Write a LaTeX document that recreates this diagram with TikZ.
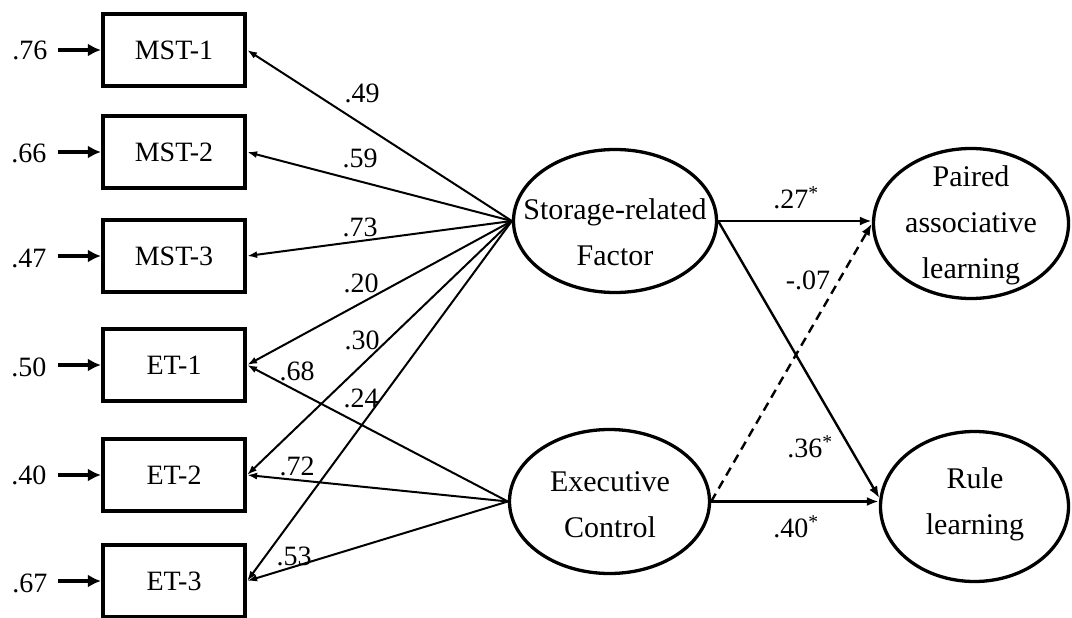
\documentclass[tikz,border=0pt]{standalone}
\usepackage{fontspec}
\setmainfont{Liberation Serif}
\usetikzlibrary{arrows.meta,shapes.geometric}
\begin{document}
\begin{tikzpicture}[x=1pt,y=-1pt,
  obs/.style={draw, line width=4.2pt, minimum width=142pt, minimum height=72pt, inner sep=0pt, font=\fontsize{28}{28}\selectfont},
  lat/.style={draw, ellipse, line width=3.3pt, inner sep=0pt},
  ltext/.style={align=center, inner sep=0pt, font=\fontsize{30}{46}\selectfont},
  err/.style={-{Latex[length=13pt,width=13pt]}, line width=4.2pt},
  load/.style={-{Latex[length=10pt,width=7pt]}, line width=2pt},
  reg/.style={-{Latex[length=12pt,width=9pt]}, line width=2.4pt},
  lbl/.style={font=\fontsize{28}{28}\selectfont, inner sep=0pt}
]
\useasboundingbox (0,0) rectangle (1072,618);
\clip (0,0) rectangle (1072,618);
\fill[white] (0,0) rectangle (1072,618);

% observed boxes
\node[obs] (m1) at (174,50) {MST-1};
\node[obs] (m2) at (174,152) {MST-2};
\node[obs] (m3) at (174,256) {MST-3};
\node[obs] (e1) at (174,365) {ET-1};
\node[obs] (e2) at (174,475) {ET-2};
\node[obs] (e3) at (174,581) {ET-3};

% latent ellipses
\node[lat, minimum width=203pt, minimum height=143pt] (sto) at (615,221) {};
\node[lat, minimum width=200pt, minimum height=144pt] (exe) at (609.5,501.5) {};
\node[lat, minimum width=195pt, minimum height=150pt] (pal) at (971,223.5) {};
\node[lat, minimum width=188pt, minimum height=150pt] (rul) at (974.5,506.5) {};
\node[ltext] (stot) at (615,232) {Storage-related\\Factor};
\node[ltext] (exet) at (610,505) {Executive\\Control};
\node[ltext] (palt) at (971,225) {Paired\\associative\\learning};
\node[ltext] (rult) at (975,504) {Rule\\learning};

% error terms
\node[lbl] (u1) at (30,50) {.76};
\node[lbl] (u2) at (29,153) {.66};
\node[lbl] (u3) at (29,258) {.47};
\node[lbl] (u4) at (29,367) {.50};
\node[lbl] (u5) at (29,475) {.40};
\node[lbl] (u6) at (30,583) {.67};
\coordinate (s1) at (58,50);
\coordinate (s2) at (58,152);
\coordinate (s3) at (58,256);
\coordinate (s4) at (58,365);
\coordinate (s5) at (58,475);
\coordinate (s6) at (58,581);
\draw[err] (s1) -- (m1.west);
\draw[err] (s2) -- (m2.west);
\draw[err] (s3) -- (m3.west);
\draw[err] (s4) -- (e1.west);
\draw[err] (s5) -- (e2.west);
\draw[err] (s6) -- (e3.west);

% loadings
\draw[load] (sto.west) -- (m1.east);
\draw[load] (sto.west) -- (m2.east);
\draw[load] (sto.west) -- (m3.east);
\draw[load] (sto.west) -- (e1.east);
\draw[load] (sto.west) -- (e2.east);
\draw[load] (sto.west) -- (e3.east);
\draw[load] (exe.west) -- (e1.east);
\draw[load] (exe.west) -- (e2.east);
\draw[load] (exe.west) -- (e3.east);

\node[lbl] (l49) at (362,93) {.49};
\node[lbl] (l59) at (360,158) {.59};
\node[lbl] (l73) at (360,227) {.73};
\node[lbl] (l20) at (361,283) {.20};
\node[lbl] (l30) at (362,340) {.30};
\node[lbl] (l68) at (297,371) {.68};
\node[lbl] (l24) at (361,398) {.24};
\node[lbl] (l72) at (297,466) {.72};
\node[lbl] (l53) at (294,556) {.53};

% structural paths
\draw[reg] (sto.east) -- (sto.east -| pal.west);
\draw[reg] (sto.east) -- (rul.175);
\draw[reg] (exe.east) -- (exe.east -| rul.west);
\draw[reg, dash pattern=on 9pt off 6pt] (exe.east) -- (pal.west);

\node[lbl] (p27) at (796,198) {.27\textsuperscript{*}};
\node[lbl] (p07) at (808,280) {-.07};
\node[lbl] (p36) at (810,447) {.36\textsuperscript{*}};
\node[lbl] (p40) at (796,527) {.40\textsuperscript{*}};
\end{tikzpicture}
\end{document}
